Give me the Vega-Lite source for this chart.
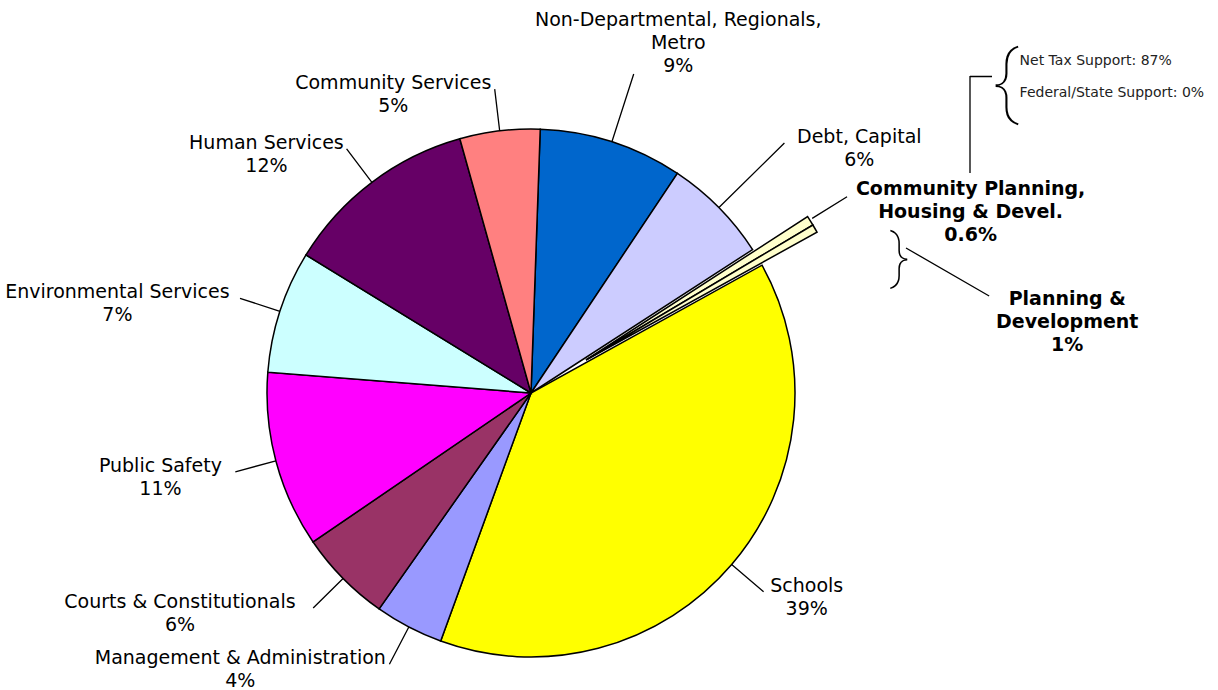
{
  "$schema": "https://vega.github.io/schema/vega-lite/v6.json",
  "width": 1062,
  "height": 594,
  "autosize": {"type": "none"},
  "padding": {"left": 0, "top": 96, "right": 156, "bottom": 0},
  "background": "white",
  "config": {"view": {"stroke": null}, "text": {"font": "DejaVu Sans"}},
  "data": {
    "values": [
      {"order": 1, "cat": "Non-Departmental, Regionals, Metro", "value": 8.8, "explode": false, "label": ["Non-Departmental, Regionals,", "Metro", "9%"]},
      {"order": 2, "cat": "Debt, Capital", "value": 6.5, "explode": false, "label": ["Debt, Capital", "6%"]},
      {"order": 3, "cat": "Community Planning, Housing & Devel.", "value": 0.6, "explode": true, "label": ["Community Planning,", "Housing & Devel.", "0.6%"], "support": ["Net Tax Support: 87%", "Federal/State Support: 0%"]},
      {"order": 4, "cat": "Other Planning & Development", "value": 0.5, "explode": true, "label": ["Planning &", "Development", "1%"]},
      {"order": 5, "cat": "Schools", "value": 38.6, "explode": false, "label": ["Schools", "39%"]},
      {"order": 6, "cat": "Management & Administration", "value": 4.2, "explode": false, "label": ["Management & Administration", "4%"]},
      {"order": 7, "cat": "Courts & Constitutionals", "value": 5.7, "explode": false, "label": ["Courts & Constitutionals", "6%"]},
      {"order": 8, "cat": "Public Safety", "value": 10.8, "explode": false, "label": ["Public Safety", "11%"]},
      {"order": 9, "cat": "Environmental Services", "value": 7.5, "explode": false, "label": ["Environmental Services", "7%"]},
      {"order": 10, "cat": "Human Services", "value": 11.9, "explode": false, "label": ["Human Services", "12%"]},
      {"order": 11, "cat": "Community Services", "value": 4.9, "explode": false, "label": ["Community Services", "5%"]}
    ]
  },
  "transform": [
    {"stack": "value", "groupby": [], "sort": [{"field": "order", "order": "ascending"}], "as": ["v0", "v1"]},
    {"calculate": "(datum.v0 + datum.v1) / 2", "as": "mid"},
    {"calculate": "0.035 + datum.mid * 2 * PI / 100", "as": "ang"},
    {"calculate": "sin(datum.ang)", "as": "sn"},
    {"calculate": "cos(datum.ang)", "as": "cs"},
    {"calculate": "length(datum.label)", "as": "nl"},
    {"calculate": "5.3 * max(length(datum.label[0]), length(peek(datum.label)))", "as": "hw"},
    {"calculate": "datum.sn > 0 && datum.sn < 0.45 && datum.cs > 0", "as": "topstyle"},
    {"calculate": "306 + (datum.sn > 0 && datum.cs > 0 ? 100 * datum.sn * datum.cs : 0)", "as": "lr"},
    {"calculate": "datum.topstyle ? 0.3 * datum.hw : (datum.sn >= 0 ? 1 : -1) * (datum.hw + 6)", "as": "ldx"},
    {"calculate": "datum.topstyle ? -(datum.nl - 1) * 23 - 17 : -15", "as": "ldy"}
  ],
  "layer": [
    {
      "transform": [{"filter": "!datum.explode"}],
      "mark": {"type": "arc", "radius": 264, "stroke": "#000000", "strokeWidth": 1.5},
      "encoding": {
        "theta": {"field": "v0", "type": "quantitative", "scale": {"domain": [0, 100], "range": [0.035, 6.3182]}},
        "theta2": {"field": "v1"},
        "color": {
          "field": "cat", "type": "nominal", "legend": null,
          "scale": {
            "domain": ["Non-Departmental, Regionals, Metro", "Debt, Capital", "Community Planning, Housing & Devel.", "Other Planning & Development", "Schools", "Management & Administration", "Courts & Constitutionals", "Public Safety", "Environmental Services", "Human Services", "Community Services"],
            "range": ["#0066CC", "#CCCCFF", "#FFFFCC", "#FFFFCC", "#FFFF00", "#9999FF", "#993366", "#FF00FF", "#CCFFFF", "#660066", "#FF8080"]
          }
        }
      }
    },
    {
      "transform": [{"filter": "datum.explode"}],
      "mark": {"type": "arc", "radius": 264, "stroke": "#000000", "strokeWidth": 1.5, "xOffset": 55, "yOffset": -33},
      "encoding": {
        "theta": {"field": "v0", "type": "quantitative", "scale": {"domain": [0, 100], "range": [0.035, 6.3182]}},
        "theta2": {"field": "v1"},
        "color": {"field": "cat", "type": "nominal", "legend": null}
      }
    },
    {
      "transform": [{"filter": "!datum.explode"}],
      "mark": {"type": "arc", "radius": {"expr": "datum.lr"}, "radius2": 264, "fillOpacity": 0, "stroke": "#000000", "strokeWidth": 1.3},
      "encoding": {
        "theta": {"field": "mid", "type": "quantitative", "scale": {"domain": [0, 100], "range": [0.035, 6.3182]}},
        "theta2": {"field": "mid"}
      }
    },
    {
      "transform": [{"filter": "datum.order == 3"}],
      "mark": {"type": "arc", "radius": 372, "radius2": 331, "fillOpacity": 0, "stroke": "#000000", "strokeWidth": 1.3},
      "encoding": {
        "theta": {"field": "mid", "type": "quantitative", "scale": {"domain": [0, 100], "range": [0.035, 6.3182]}},
        "theta2": {"field": "mid"}
      }
    },
    {
      "transform": [{"filter": "!datum.explode"}],
      "mark": {"type": "text", "radius": {"expr": "datum.lr"}, "align": "center", "baseline": "top", "dx": {"expr": "datum.ldx"}, "dy": {"expr": "datum.ldy"}, "fontSize": 19, "lineHeight": 23, "font": "DejaVu Sans", "color": "#000000"},
      "encoding": {
        "theta": {"field": "mid", "type": "quantitative", "scale": {"domain": [0, 100], "range": [0.035, 6.3182]}},
        "text": {"field": "label"}
      }
    },
    {
      "transform": [{"filter": "datum.order == 3"}],
      "mark": {"type": "text", "radius": 375, "align": "center", "baseline": "top", "dx": 121, "dy": -15, "fontSize": 19, "fontWeight": "bold", "lineHeight": 23, "font": "DejaVu Sans", "color": "#000000"},
      "encoding": {
        "theta": {"field": "mid", "type": "quantitative", "scale": {"domain": [0, 100], "range": [0.035, 6.3182]}},
        "text": {"field": "label"}
      }
    },
    {
      "transform": [{"filter": "datum.order == 4"}],
      "mark": {"type": "text", "radius": 375, "align": "center", "baseline": "top", "dx": 211, "dy": 84, "fontSize": 19, "fontWeight": "bold", "lineHeight": 23, "font": "DejaVu Sans", "color": "#000000"},
      "encoding": {
        "theta": {"field": "mid", "type": "quantitative", "scale": {"domain": [0, 100], "range": [0.035, 6.3182]}},
        "text": {"field": "label"}
      }
    },
    {
      "transform": [{"filter": "datum.order == 3"}],
      "mark": {"type": "text", "radius": 375, "align": "left", "baseline": "top", "dx": 170, "dy": -141, "fontSize": 14, "lineHeight": 32, "font": "DejaVu Sans", "color": "#222222"},
      "encoding": {
        "theta": {"field": "mid", "type": "quantitative", "scale": {"domain": [0, 100], "range": [0.035, 6.3182]}},
        "text": {"field": "support"}
      }
    },
    {
      "transform": [{"filter": "datum.order == 3"}],
      "mark": {"type": "text", "radius": 375, "align": "center", "baseline": "middle", "dx": 156, "dy": -111, "fontSize": 80, "fontWeight": 100, "font": "Roboto", "color": "#000000"},
      "encoding": {
        "theta": {"field": "mid", "type": "quantitative", "scale": {"domain": [0, 100], "range": [0.035, 6.3182]}},
        "text": {"value": "{"}
      }
    },
    {
      "transform": [{"filter": "datum.order == 3"}],
      "mark": {"type": "text", "radius": 375, "align": "center", "baseline": "middle", "dx": 50, "dy": 63, "fontSize": 60, "fontWeight": 100, "font": "Roboto", "color": "#000000"},
      "encoding": {
        "theta": {"field": "mid", "type": "quantitative", "scale": {"domain": [0, 100], "range": [0.035, 6.3182]}},
        "text": {"value": "}"}
      }
    },
    {
      "transform": [{"filter": "datum.order == 3"}],
      "mark": {"type": "arc", "theta": 0, "theta2": 0, "radius": 97, "radius2": 0, "xOffset": 439, "yOffset": -220, "fillOpacity": 0, "stroke": "#000000", "strokeWidth": 1.3},
      "encoding": {}
    },
    {
      "transform": [{"filter": "datum.order == 3"}],
      "mark": {"type": "arc", "theta": 1.5708, "theta2": 1.5708, "radius": 22, "radius2": 0, "xOffset": 439, "yOffset": -316.5, "fillOpacity": 0, "stroke": "#000000", "strokeWidth": 1.3},
      "encoding": {}
    },
    {
      "transform": [{"filter": "datum.order == 3"}],
      "mark": {"type": "arc", "theta": 2.094, "theta2": 2.094, "radius": 96, "radius2": 0, "xOffset": 375, "yOffset": -145, "fillOpacity": 0, "stroke": "#000000", "strokeWidth": 1.3},
      "encoding": {}
    }
  ]
}
